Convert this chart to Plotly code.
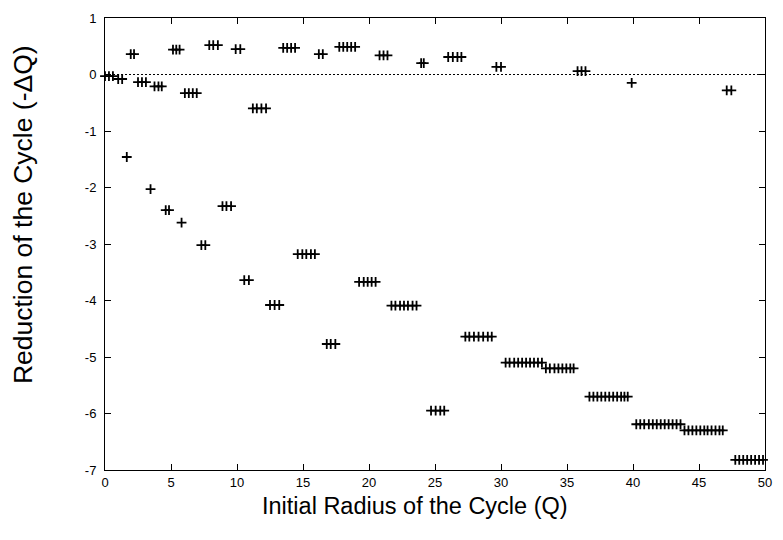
import plotly.graph_objects as go

# Upper family of steps (small changes around zero): reduction value and sampled radii
upper_reduction = [-0.03, -0.08, 0.36, -0.135, -0.21, 0.44, -0.33, 0.52, 0.45, -0.60,
                   0.47, 0.36, 0.49, 0.34, 0.20, 0.31, 0.135, 0.06, -0.15, -0.28]
upper_radius = [
    [0.0, 0.3, 0.6],
    [1.0, 1.3],
    [1.95, 2.2],
    [2.5, 2.8, 3.1],
    [3.75, 4.05, 4.3],
    [5.15, 5.4, 5.65],
    [6.05, 6.35, 6.65, 6.95],
    [7.9, 8.2, 8.55],
    [9.9, 10.25],
    [11.2, 11.5, 11.85, 12.2],
    [13.5, 13.8, 14.1, 14.4],
    [16.2, 16.5],
    [17.75, 18.05, 18.35, 18.65, 18.95],
    [20.8, 21.1, 21.4],
    [23.95, 24.15],
    [26.0, 26.35, 26.7, 27.0],
    [29.65, 30.0],
    [35.8, 36.1, 36.4],
    [39.9],
    [47.1, 47.45],
]

# Lower family of steps (large reductions)
lower_reduction = [-1.46, -2.03, -2.40, -2.62, -3.02, -2.33, -3.64, -4.08, -3.18, -4.77,
                   -3.67, -4.09, -5.95, -4.64, -5.10, -5.20, -5.70, -6.19, -6.30, -6.82]
lower_radius = [
    [1.65],
    [3.45],
    [4.6, 4.85],
    [5.8],
    [7.3, 7.6],
    [8.9, 9.2, 9.55],
    [10.55, 10.9],
    [12.5, 12.85, 13.2],
    [14.6, 14.95, 15.25, 15.6, 15.9],
    [16.8, 17.1, 17.45],
    [19.25, 19.6, 19.9, 20.2, 20.5],
    [21.7, 22.0, 22.35, 22.65, 22.95, 23.3, 23.6],
    [24.7, 25.05, 25.4, 25.7],
    [27.3, 27.6, 27.95, 28.3, 28.65, 29.0, 29.3],
    [30.35, 30.65, 31.0, 31.3, 31.6, 31.9, 32.2, 32.5, 32.8, 33.1],
    [33.4, 33.7, 34.05, 34.35, 34.65, 34.95, 35.25, 35.5],
    [36.7, 37.0, 37.3, 37.6, 37.9, 38.2, 38.5, 38.8, 39.1, 39.35, 39.6],
    [40.25, 40.55, 40.85, 41.2, 41.5, 41.8, 42.1, 42.4, 42.7, 43.0, 43.3, 43.6],
    [43.9, 44.2, 44.5, 44.8, 45.1, 45.4, 45.65, 45.95, 46.25, 46.55, 46.8],
    [47.75, 48.05, 48.35, 48.65, 48.95, 49.25, 49.55, 49.85],
]

x_ticks = [0, 5, 10, 15, 20, 25, 30, 35, 40, 45, 50]
y_ticks = [1, 0, -1, -2, -3, -4, -5, -6, -7]

xs, ys = [], []
for values, radii in ((upper_reduction, upper_radius), (lower_reduction, lower_radius)):
    for val, rads in zip(values, radii):
        for r in rads:
            xs.append(r)
            ys.append(val)

FONT = "Liberation Sans, Arial, sans-serif"

fig = go.Figure()
fig.add_trace(go.Scatter(
    x=xs, y=ys, mode="markers", cliponaxis=False,
    marker=dict(symbol="cross-thin", size=7, color="black",
                line=dict(color="black", width=1.8)),
    showlegend=False,
))

# dotted reference line at zero
fig.add_shape(type="line", xref="x", yref="y", x0=0, x1=50, y0=0, y1=0,
              line=dict(color="black", width=1, dash="2px,2px"), layer="below")

axis_common = dict(showgrid=False, zeroline=False, showline=True, linecolor="black",
                   linewidth=1, mirror="allticks", ticks="inside", ticklen=6,
                   tickcolor="black", tickwidth=1,
                   tickfont=dict(family=FONT, size=13, color="black"))

fig.update_xaxes(range=[0, 50], tickvals=x_ticks, ticktext=[str(t) for t in x_ticks],
                 ticklabelstandoff=0, **axis_common)
fig.update_yaxes(range=[-7, 1], tickvals=y_ticks, ticktext=[str(t) for t in y_ticks],
                 ticklabelstandoff=5, **axis_common)

fig.add_annotation(text="Initial Radius of the Cycle (Q)", xref="paper", yref="paper",
                   x=0.47, y=-0.079, xanchor="center", yanchor="middle", showarrow=False,
                   font=dict(family=FONT, size=23.5, color="black"))
fig.add_annotation(text="Reduction of the Cycle (-ΔQ)", xref="paper", yref="paper",
                   x=-0.125, y=0.565, xanchor="center", yanchor="middle", showarrow=False,
                   textangle=-90,
                   font=dict(family=FONT, size=26.5, color="black"))

fig.update_layout(
    width=783, height=540,
    margin=dict(l=105, r=11, t=13, b=70),
    plot_bgcolor="white", paper_bgcolor="white",
)

fig.write_html("out.html")
